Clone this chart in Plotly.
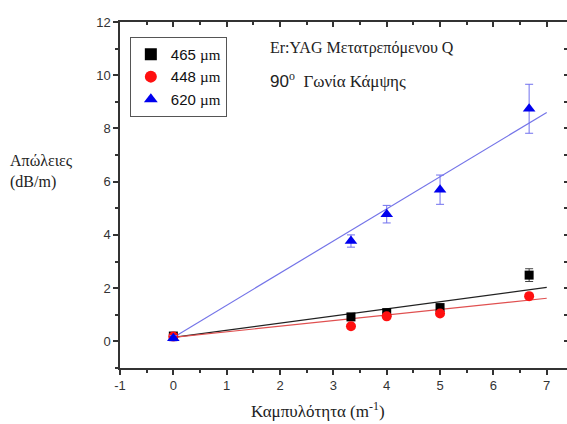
import plotly.graph_objects as go

# Data
curv = [0, 3.33, 4, 5, 6.67]
loss_465 = [0.2, 0.92, 1.08, 1.27, 2.49]
err_465 = [0, 0, 0, 0, 0.24]
loss_448 = [0.18, 0.57, 0.94, 1.05, 1.70]
err_448 = [0, 0, 0, 0, 0.05]
loss_620 = [0.12, 3.77, 4.78, 5.70, 8.74]
err_620 = [0.1, 0.23, 0.33, 0.55, 0.92]

fit_x = [0, 7]
fit_465 = [0.15, 2.03]
fit_448 = [0.15, 1.62]
fit_620 = [0.15, 8.6]

x_ticks = [-1, 0, 1, 2, 3, 4, 5, 6, 7]
x_labels = ["-1", "0", "1", "2", "3", "4", "5", "6", "7"]
y_ticks = [0, 2, 4, 6, 8, 10, 12]

W, H = 567, 424
ML, MR, MT, MB = 120, 0, 22, 56
XR = [-1, 7.38]
YR = [-1, 12]

SERIF = "Liberation Serif"
SANS = "Liberation Sans"

fig = go.Figure()

# fit lines
fig.add_trace(go.Scatter(x=fit_x, y=fit_465, mode="lines", line=dict(color="#222222", width=1.2), showlegend=False))
fig.add_trace(go.Scatter(x=fit_x, y=fit_448, mode="lines", line=dict(color="#e05050", width=1.2), showlegend=False))
fig.add_trace(go.Scatter(x=fit_x, y=fit_620, mode="lines", line=dict(color="#7474e8", width=1.2), showlegend=False))

um = '<span style="font-family:Liberation Serif">µm</span>'

fig.add_trace(go.Scatter(
    x=curv, y=loss_465, mode="markers", name="465 " + um,
    marker=dict(symbol="square", size=9, color="#000000"),
    error_y=dict(type="data", array=err_465, color="#444444", thickness=1, width=4)))
fig.add_trace(go.Scatter(
    x=curv, y=loss_448, mode="markers", name="448 " + um,
    marker=dict(symbol="circle", size=10, color="#ff1010"),
    error_y=dict(type="data", array=err_448, color="#ff6060", thickness=1, width=4)))
fig.add_trace(go.Scatter(
    x=curv, y=loss_620, mode="markers", name="620 " + um,
    marker=dict(symbol="triangle-up", size=11, color="#0000ee"),
    error_y=dict(type="data", array=err_620, color="#7070ee", thickness=1, width=4)))

# invisible trace for mirrored axes
fig.add_trace(go.Scatter(x=[XR[0]], y=[YR[0]], xaxis="x2", yaxis="y2", mode="markers",
                         marker=dict(opacity=0), showlegend=False, hoverinfo="skip"))

axis_line = dict(showline=True, linecolor="#333333", linewidth=1.5, showgrid=False, zeroline=False)

fig.update_layout(
    width=W, height=H,
    margin=dict(l=ML, r=MR, t=MT, b=MB),
    paper_bgcolor="white", plot_bgcolor="white",
    font=dict(family=SANS, size=12, color="#222222"),
    xaxis=dict(range=XR, tickvals=x_ticks, ticktext=x_labels, ticks="outside", ticklen=5, tickwidth=1.5,
               tickcolor="#333333", tickfont=dict(family=SANS, size=13, color="#333333"),
               minor=dict(dtick=0.5, ticks="outside", ticklen=3, tickwidth=1.5, tickcolor="#333333"),
               **axis_line),
    yaxis=dict(range=YR, tickvals=y_ticks, ticks="outside", ticklen=5, tickwidth=1.5,
               tickcolor="#333333", tickfont=dict(family=SANS, size=13, color="#333333"),
               minor=dict(dtick=1, tick0=0, ticks="outside", ticklen=3, tickwidth=1.5, tickcolor="#333333"),
               **axis_line),
    xaxis2=dict(range=XR, overlaying="x", side="top", tickvals=x_ticks, ticks="inside",
                ticklen=5, tickwidth=1.5, tickcolor="#333333", showticklabels=False,
                minor=dict(dtick=0.5, ticks="inside", ticklen=3, tickwidth=1.5, tickcolor="#333333"),
                **axis_line),
    yaxis2=dict(range=YR, overlaying="y", side="right", tickvals=list(range(-1, 13)), ticks="inside",
                ticklen=3, tickwidth=1.5, tickcolor="#333333", showticklabels=False,
                **axis_line),
    legend=dict(x=0.022, y=0.957, xanchor="left", yanchor="top",
                bordercolor="#555555", borderwidth=1, bgcolor="white",
                font=dict(family=SANS, size=15, color="#111111"),
                itemsizing="constant", tracegroupgap=2),
    showlegend=True,
)

def px_to_paper(xp, yp):
    return (xp - ML) / (W - ML - MR), (H - MB - yp) / (H - MT - MB)

annos = [
    (268, 48, "Er:YAG Μετατρεπόμενου Q", SERIF, 16),
    (268, 80, '<span style="font-family:Liberation Sans">90</span><sup>o</sup>  Γωνία Κάμψης', SERIF, 17),
]
for xp, yp, txt, fam, sz in annos:
    ax, ay = px_to_paper(xp, yp)
    fig.add_annotation(x=ax, y=ay, xref="paper", yref="paper", text=txt, showarrow=False,
                       xanchor="left", yanchor="middle", align="left",
                       font=dict(family=fam, size=sz, color="#222222"))

ax, ay = px_to_paper(8, 172)
fig.add_annotation(x=ax, y=ay, xref="paper", yref="paper", text="Απώλειες<br>(dB/m)",
                   showarrow=False, xanchor="left", yanchor="middle", align="left",
                   font=dict(family=SERIF, size=16, color="#222222"))

ax, ay = px_to_paper(318, 410)
fig.add_annotation(x=ax, y=ay, xref="paper", yref="paper", text="Καμπυλότητα (m<sup>-1</sup>)",
                   showarrow=False, xanchor="center", yanchor="middle",
                   font=dict(family=SERIF, size=17, color="#222222"))

fig.write_html("out.html")
